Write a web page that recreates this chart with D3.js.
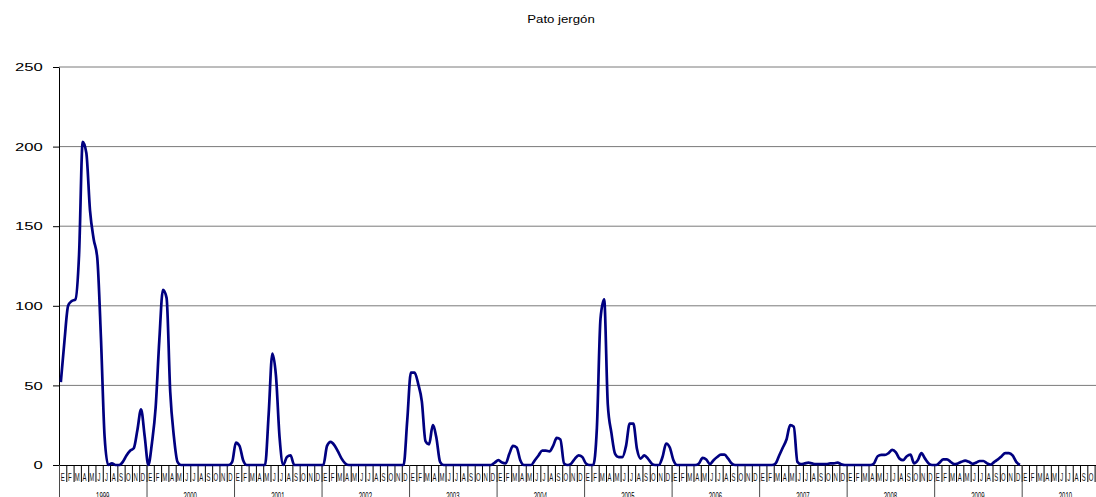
<!DOCTYPE html>
<html>
<head>
<meta charset="utf-8">
<script src="https://cdn.jsdelivr.net/npm/d3@7"></script>
<style>
    body { margin: 0; background: #fff; }
    svg { display: block; font-family: "Liberation Sans", Arial, sans-serif; }
</style>
</head>
<body>
<svg id="chart" width="1096" height="497"></svg>
<script>
(function () {
    'use strict';

    var title = 'Pato jergón';
    var years = [1999, 2000, 2001, 2002, 2003, 2004, 2005, 2006, 2007, 2008, 2009, 2010];
    var months = ['E', 'F', 'M', 'A', 'M', 'J', 'J', 'A', 'S', 'O', 'N', 'D'];
    var yTicks = [0, 50, 100, 150, 200, 250];

    // two counts per month (first / second half)
    var y1999 = [52, 78, 100, 103, 104, 132, 203, 196, 160, 142, 130, 80, 18, 0, 1, 0, 0, 2, 6, 9, 10.5, 22, 35, 18];
    var y2000 = [0, 14, 36, 78, 110, 105, 46, 18, 2, 0, 0, 0, 0, 0, 0, 0, 0, 0, 0, 0, 0, 0, 0, 2];
    var y2001 = [14, 12, 3, 0, 0, 0, 0, 0, 0, 32, 70, 56, 17, 0, 5, 6, 0, 0, 0, 0, 0, 0, 0, 0];
    var y2002 = [0, 12, 14.5, 12.5, 8.5, 4, 1, 0, 0, 0, 0, 0, 0, 0, 0, 0, 0, 0, 0, 0, 0, 0, 0, 28];
    var y2003 = [58, 58, 51, 40, 15, 13, 25, 17, 2, 0, 0, 0, 0, 0, 0, 0, 0, 0, 0, 0, 0, 0, 0, 1.5];
    var y2004 = [3, 1.5, 1, 7, 12, 11, 3, 0, 0, 0, 3, 6, 9, 9, 8.5, 12, 17, 16, 1, 0, 1, 4, 6, 5];
    var y2005 = [1, 0, 0, 23, 92, 104, 38, 20, 7, 5, 5, 12, 26, 26, 10, 4, 6, 4, 1, 0, 0, 5, 13.5, 11];
    var y2006 = [3, 0, 0, 0, 0, 0, 0, 1, 4.5, 3.5, 0.6, 3, 5, 6.5, 6.5, 4, 1, 0, 0, 0, 0, 0, 0, 0];
    var y2007 = [0, 0, 0, 0, 1, 6, 11, 16, 25, 24, 2, 0.5, 1, 1.5, 1, 0.5, 0.5, 0.5, 0.5, 1, 1, 1.5, 0.5, 0];
    var y2008 = [0, 0, 0, 0, 0, 0, 0, 1, 5.5, 6.3, 6.3, 7.5, 9.5, 8, 4, 3, 5.5, 6.5, 1, 3, 7.4, 4, 1, 0];
    var y2009 = [0, 1.5, 3.5, 3.5, 2, 0.5, 1, 2, 2.8, 2, 0.8, 1.5, 2.5, 2.5, 1, 0.2, 2, 3.5, 5.5, 7.5, 7.5, 6, 2, 0];

    var values = d3.merge([y1999, y2000, y2001, y2002, y2003, y2004, y2005, y2006, y2007, y2008, y2009]);

    var left = 59,
        right = 1109.2,
        top = 67,
        bottom = 465;

    var svg = d3.select('#chart');

    var x = d3.scaleLinear()
        .domain([0, years.length * 24])
        .range([left, right]);

    var y = d3.scaleLinear()
        .domain([0, 250])
        .range([bottom, top]);

    // title
    svg.append('text')
        .attr('transform', 'translate(561,23) scale(1.15,1)')
        .attr('text-anchor', 'middle')
        .attr('font-size', 11.5)
        .attr('fill', '#000')
        .text(title);

    // horizontal gridlines
    svg.append('g')
        .selectAll('line')
        .data(yTicks.slice(1))
        .join('line')
        .attr('x1', left)
        .attr('x2', right)
        .attr('y1', function (d) { return y(d); })
        .attr('y2', function (d) { return y(d); })
        .attr('stroke', '#7a7a7a')
        .attr('stroke-width', 1);

    // y axis
    var yAxis = svg.append('g')
        .attr('transform', 'translate(' + left + ',0)')
        .call(d3.axisLeft(y).tickValues(yTicks).tickSize(6).tickSizeOuter(0).tickPadding(10));

    yAxis.select('.domain').attr('stroke', '#000');
    yAxis.selectAll('.tick line').attr('stroke', '#000');
    yAxis.selectAll('.tick text')
        .attr('font-family', '"Liberation Sans", Arial, sans-serif')
        .attr('font-size', 11.5)
        .attr('fill', '#000')
        .attr('x', -16.3 / 1.45)
        .attr('transform', 'scale(1.45,1)');

    // month ticks on the zero line
    var xAxis = svg.append('g')
        .attr('transform', 'translate(0,' + bottom + ')')
        .call(d3.axisBottom(x).tickValues(d3.range(0, years.length * 24 + 1, 2))
            .tickSize(17).tickSizeOuter(0).tickFormat(''));

    xAxis.select('.domain').attr('stroke', '#000');
    xAxis.selectAll('.tick line').attr('stroke', '#000');

    // year separators, running down past the bottom
    var yearAxis = svg.append('g')
        .attr('transform', 'translate(0,' + bottom + ')')
        .call(d3.axisBottom(x).tickValues(d3.range(0, years.length * 24 + 1, 24))
            .tickSize(40).tickSizeOuter(0).tickFormat(''));

    yearAxis.select('.domain').remove();
    yearAxis.selectAll('.tick line').attr('stroke', '#4a4a4a');

    // month letters
    svg.append('g')
        .selectAll('text')
        .data(d3.range(years.length * 12))
        .join('text')
        .attr('transform', function (d) {
            return 'translate(' + x(d * 2 + 1) + ',480.5) scale(0.6,1)';
        })
        .attr('text-anchor', 'middle')
        .attr('font-size', 10)
        .attr('fill', '#111')
        .text(function (d) { return months[d % 12]; });

    // year labels
    svg.append('g')
        .selectAll('text')
        .data(years)
        .join('text')
        .attr('transform', function (d, i) {
            return 'translate(' + x(i * 24 + 12) + ',500) scale(0.6,1)';
        })
        .attr('text-anchor', 'middle')
        .attr('font-size', 10)
        .attr('fill', '#000')
        .text(function (d) { return d; });

    // the series
    var line = d3.line()
        .x(function (d, i) { return x(i + 0.5); })
        .y(function (d) { return y(d); })
        .curve(d3.curveMonotoneX);

    svg.append('path')
        .datum(values)
        .attr('d', line)
        .attr('fill', 'none')
        .attr('stroke', '#000080')
        .attr('stroke-width', 2.7)
        .attr('stroke-linejoin', 'round');
}());
</script>
</body>
</html>
